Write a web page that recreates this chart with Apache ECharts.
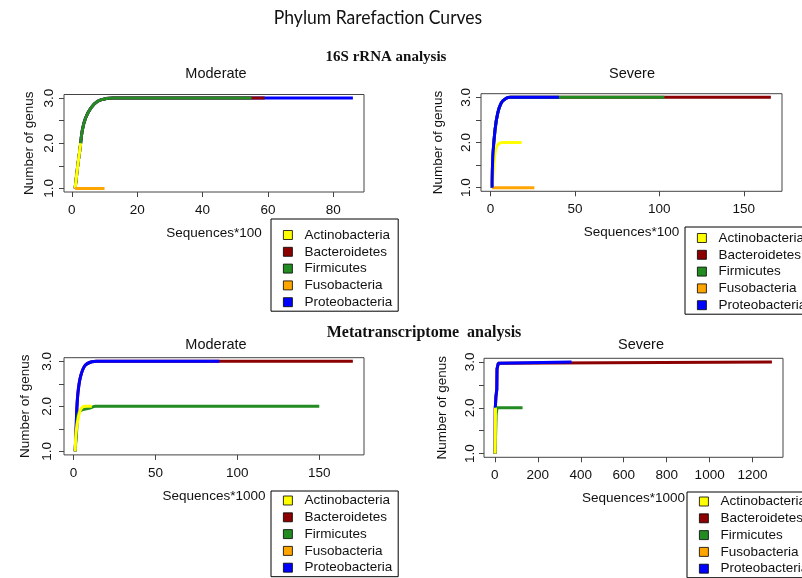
<!DOCTYPE html>
<html>
<head>
<meta charset="utf-8">
<script src="https://cdn.jsdelivr.net/npm/echarts@6/dist/echarts.min.js"></script>
<style>
  html, body { margin: 0; padding: 0; background: #fff; }
  #canvas { width: 802px; height: 578px; }
</style>
</head>
<body>
<div id="canvas"></div>
<script>
/* eslint-disable no-undef */
const phyla = ['Actinobacteria', 'Bacteroidetes', 'Firmicutes', 'Fusobacteria', 'Proteobacteria'];

// 16S rRNA, moderate  (x = sequences*100, y = number of genus)
const m16Actino = [[1, 1], [1.8, 1.5], [2.7, 2]];
const m16Firmi = [[1, 1], [1.8, 1.5], [2.5, 1.88], [3.2, 2.29], [4.2, 2.56], [5.8, 2.78], [7.9, 2.93], [10.5, 2.99], [12.5, 3], [55, 3]];
const m16Bactero = [[1, 1], [1.8, 1.5], [2.5, 1.88], [3.2, 2.29], [4.2, 2.56], [5.8, 2.78], [7.9, 2.93], [10.5, 2.99], [12.5, 3], [59, 3]];
const m16Proteo = [[1, 1], [1.8, 1.5], [2.5, 1.88], [3.2, 2.29], [4.2, 2.56], [5.8, 2.78], [7.9, 2.93], [10.5, 2.99], [12.5, 3], [86, 3]];
const m16Fuso = [[1, 1], [10, 1]];

// 16S rRNA, severe
const s16Proteo = [[1, 1], [1.4, 1.68], [2.7, 2.28], [4.3, 2.65], [6.3, 2.87], [9.3, 2.98], [12, 3], [40.5, 3]];
const s16Firmi = [[1, 1], [1.4, 1.68], [2.7, 2.28], [4.3, 2.65], [6.3, 2.87], [9.3, 2.98], [12, 3], [103, 3]];
const s16Bactero = [[1, 1], [1.4, 1.68], [2.7, 2.28], [4.3, 2.65], [6.3, 2.87], [9.3, 2.98], [12, 3], [166, 3]];
const s16Actino = [[1, 1], [2.4, 1.68], [3.3, 1.87], [4.7, 1.97], [7.3, 2], [18.5, 2]];
const s16Fuso = [[1, 1], [26, 1]];

// Metatranscriptome, moderate  (x = sequences*1000)
const mMtProteo = [[1, 1], [1.6, 1.5], [2.1, 2], [3, 2.39], [4.5, 2.69], [7.1, 2.91], [11.2, 2.99], [14, 3], [89, 3]];
const mMtBactero = [[1, 1], [1.6, 1.5], [2.1, 2], [3, 2.39], [4.5, 2.69], [7.1, 2.91], [11.2, 2.99], [14, 3], [170.5, 3]];
const mMtFirmi = [[1, 1], [2, 1.5], [3, 1.84], [5.1, 1.92], [10.2, 1.96], [13.2, 2], [150, 2]];
const mMtActino = [[1, 1], [1.6, 1.43], [3, 1.76], [4.5, 1.94], [7.1, 2], [11.2, 2]];

// Metatranscriptome, severe
const sMtProteo = [[1, 1], [2, 2], [5, 2.25], [9, 2.4], [10, 2.85], [16, 2.97], [25, 3], [357, 3]];
const sMtBactero = [[1, 1], [2, 2], [5, 2.25], [9, 2.4], [10, 2.85], [16, 2.97], [25, 3], [1290, 3]];
const sMtFirmi = [[1, 1], [6, 1.85], [10, 2], [129, 2]];
const sMtActino = [[1, 1], [3, 2], [5, 2]];

// tick labels
const xTicks16Mod = [0, 20, 40, 60, 80];
const xTicks16Sev = [0, 50, 100, 150];
const xTicksMtMod = [0, 50, 100, 150];
const xTicksMtSev = [0, 200, 400, 600, 800, 1000, 1200];
const yTicks = [1, 1.5, 2, 2.5, 3];
const yLabels = [1, 2, 3];

const colorOf = {
  Actinobacteria: '#ffff00',
  Bacteroidetes: '#8b0000',
  Firmicutes: '#228b22',
  Fusobacteria: '#ffa500',
  Proteobacteria: '#0000ff',
};

const font = 'Liberation Sans, Arial, sans-serif';
const axisColor = '#444';

function xAxis(gridIndex, min, max, ticks, name) {
  return {
    type: 'value', gridIndex, min, max, name,
    nameLocation: 'middle', nameGap: 34,
    nameTextStyle: { fontFamily: font, fontSize: 13.5, color: '#111' },
    axisLine: { show: false, onZero: false },
    axisTick: { show: true, length: 5, customValues: ticks, lineStyle: { color: axisColor } },
    axisLabel: {
      customValues: ticks, margin: 11, fontFamily: font, fontSize: 13.5, color: '#111',
      formatter: (v) => String(v),
    },
    splitLine: { show: false },
  };
}

function yAxis(gridIndex, margin, nameGap) {
  return {
    type: 'value', gridIndex, min: 0.92, max: 3.08, name: 'Number of genus',
    nameLocation: 'middle', nameGap,
    nameTextStyle: { fontFamily: font, fontSize: 13.5, color: '#111' },
    axisLine: { show: false, onZero: false },
    axisTick: { show: true, length: 5, customValues: yTicks, lineStyle: { color: axisColor } },
    axisLabel: {
      customValues: yLabels, rotate: 90, margin,
      fontFamily: font, fontSize: 13.5, color: '#111',
      formatter: (v) => v.toFixed(1),
    },
    splitLine: { show: false },
  };
}

function line(name, idx, data, smooth) {
  return {
    type: 'line', name, data,
    xAxisIndex: idx, yAxisIndex: idx,
    showSymbol: false, symbol: 'none',
    smooth: smooth ? 0.35 : false,
    color: colorOf[name],
    lineStyle: { width: 3, color: colorOf[name] },
    emphasis: { disabled: true },
    silent: true,
    animation: false,
  };
}

function legend(left, top, padTop) {
  return {
    data: phyla, orient: 'vertical', left, top,
    icon: 'rect', itemWidth: 9, itemHeight: 9, itemGap: 2.8,
    itemStyle: { borderColor: '#000', borderWidth: 0.8 },
    padding: [padTop, 6, 2, 12],
    borderColor: '#000', borderWidth: 1,
    selectedMode: false,
    textStyle: { fontFamily: font, fontSize: 13.5, color: '#111', padding: [0, 0, 0, 7] },
  };
}

function label(text, x, y, size, family, weight, scaleX) {
  return {
    type: 'text', x, y, silent: true, scaleX: scaleX || 1,
    style: {
      text, fill: '#111', align: 'center', verticalAlign: 'middle',
      font: `${weight || 'normal'} ${size}px ${family}`,
    },
  };
}

const chart = echarts.init(document.getElementById('canvas'), null, { renderer: 'canvas' });

const gridStyle = { show: true, borderColor: axisColor, borderWidth: 1, backgroundColor: 'transparent' };

const option = {
  animation: false,
  backgroundColor: '#fff',
  grid: [
    { ...gridStyle, left: 64, top: 94.5, width: 300, height: 97.5 },
    { ...gridStyle, left: 481, top: 93.7, width: 301, height: 97.6 },
    { ...gridStyle, left: 64, top: 357.7, width: 300, height: 97.2 },
    { ...gridStyle, left: 484, top: 358.3, width: 299, height: 99 },
  ],
  xAxis: [
    xAxis(0, -2.4, 89.4, xTicks16Mod, 'Sequences*100'),
    xAxis(1, -5.6, 172.6, xTicks16Sev, 'Sequences*100'),
    xAxis(2, -5.8, 177.3, xTicksMtMod, 'Sequences*1000'),
    xAxis(3, -50.6, 1341.6, xTicksMtSev, 'Sequences*1000'),
  ],
  yAxis: [yAxis(0, 8, 28), yAxis(1, 8, 36), yAxis(2, 10, 32), yAxis(3, 7, 35)],
  legend: [
    legend(271, 219, 9),
    legend(685, 227, 4),
    legend(271, 491, 2.5),
    legend(687, 492, 2.5),
  ],
  graphic: [
    label('Phylum Rarefaction Curves', 378, 18, 19.5, 'Lato, Carlito, sans-serif', 'normal', 0.9),
    label('16S rRNA analysis', 386, 57, 15, 'Liberation Serif, serif', 'bold'),
    label('Metatranscriptome  analysis', 424, 333, 16, 'Liberation Serif, serif', 'bold'),
    label('Moderate', 216, 74, 14.5, font),
    label('Severe', 632, 74, 14.5, font),
    label('Moderate', 216, 345, 14.5, font),
    label('Severe', 641, 345, 14.5, font),
  ],
  series: [
    line('Proteobacteria', 0, m16Proteo, true),
    line('Bacteroidetes', 0, m16Bactero, true),
    line('Firmicutes', 0, m16Firmi, true),
    line('Actinobacteria', 0, m16Actino, false),
    line('Fusobacteria', 0, m16Fuso, false),

    line('Bacteroidetes', 1, s16Bactero, true),
    line('Firmicutes', 1, s16Firmi, true),
    line('Fusobacteria', 1, s16Fuso, false),
    line('Actinobacteria', 1, s16Actino, true),
    line('Proteobacteria', 1, s16Proteo, true),

    line('Bacteroidetes', 2, mMtBactero, true),
    line('Proteobacteria', 2, mMtProteo, true),
    line('Firmicutes', 2, mMtFirmi, true),
    line('Actinobacteria', 2, mMtActino, true),

    line('Bacteroidetes', 3, sMtBactero, false),
    line('Proteobacteria', 3, sMtProteo, false),
    line('Firmicutes', 3, sMtFirmi, false),
    line('Actinobacteria', 3, sMtActino, false),
  ],
};

chart.setOption(option);

window.onresize = chart.resize;
</script>
</body>
</html>
